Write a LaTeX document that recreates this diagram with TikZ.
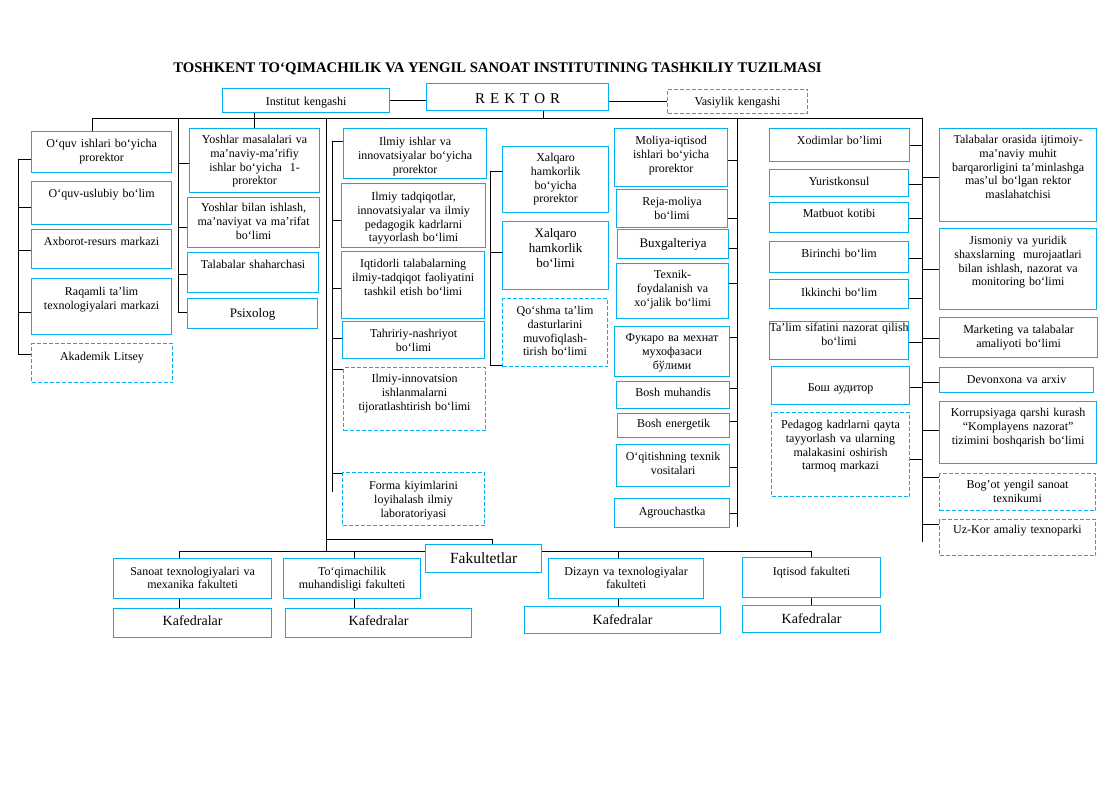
\documentclass[tikz,border=0pt]{standalone}
\usepackage{fontspec}
\setmainfont{Liberation Serif}
\usepackage{tikz}
\definecolor{boxblue}{RGB}{0,176,240}

\begin{document}
\begin{tikzpicture}[x=1pt,y=-1pt,line width=0.9pt,
  unit node/.style={draw=boxblue,line width=1.2pt,fill=white,inner sep=0pt,
    anchor=north west,align=center,font=\fontsize{12}{13.8}\selectfont},
  plan node/.style={unit node,line width=1pt,dash pattern=on 4pt off 2pt},
  fac node/.style={unit node,font=\fontsize{12}{12.5}\selectfont},
  dept node/.style={unit node,font=\fontsize{14}{16}\selectfont},
  wh/.style n args={3}{minimum width=#1pt,text width=#1pt,text height=#3pt,text depth={#2-#3}}]

  \fill[white] (0,0) rectangle (1118,786);

  \node[font=\fontsize{14.7}{16}\selectfont\bfseries,anchor=base] (title) at (497.5,73)
    {TOSHKENT TO‘QIMACHILIK VA YENGIL SANOAT INSTITUTINING TASHKILIY TUZILMASI};

  \node[unit node,wh={167}{24}{17}] (institut) at (222,88) {Institut kengashi};
  \node[unit node,wh={182}{27}{20},font=\fontsize{15}{17}\selectfont] (rektor) at (426,83) {R E K T O R};
  \node[plan node,wh={140}{24}{16}] (vasiy) at (667,89) {Vasiylik kengashi};

  \node[unit node,wh={140}{41}{16}] (oquvpr) at (31,131) {O‘quv ishlari bo‘yicha\\prorektor};
  \node[unit node,wh={140}{43}{16}] (oquvusl) at (31,181) {O‘quv-uslubiy bo‘lim};
  \node[unit node,wh={140}{39}{16}] (axborot) at (31,229) {Axborot-resurs markazi};
  \node[unit node,wh={140}{56}{17}] (raqamli) at (31,278) {Raqamli ta’lim\\texnologiyalari markazi};
  \node[plan node,wh={141}{39}{17}] (litsey) at (31,343) {Akademik Litsey};

  \node[unit node,wh={130}{64}{15}] (yoshpr) at (189,128) {Yoshlar masalalari va\\ma’naviy-ma’rifiy\\ishlar bo‘yicha~~1-\\prorektor};
  \node[unit node,wh={132}{50}{14}] (yoshbo) at (187,197) {Yoshlar bilan ishlash,\\ma’naviyat va ma’rifat\\bo‘limi};
  \node[unit node,wh={131}{40}{16}] (shahar) at (187,252) {Talabalar shaharchasi};
  \node[unit node,wh={130}{30}{19},font=\fontsize{13}{15}\selectfont] (psix) at (187,298) {Psixolog};

  \node[unit node,wh={143}{50}{17}] (ilmpr) at (343,128) {Ilmiy ishlar va\\innovatsiyalar bo‘yicha\\prorektor};
  \node[unit node,wh={144}{64}{17}] (ilmtad) at (341,183) {Ilmiy tadqiqotlar,\\innovatsiyalar va ilmiy\\pedagogik kadrlarni\\tayyorlash bo‘limi};
  \node[unit node,wh={143}{67}{16}] (iqtid) at (341,251) {Iqtidorli talabalarning\\ilmiy-tadqiqot faoliyatini\\tashkil etish bo‘limi};
  \node[unit node,wh={142}{37}{16}] (tahrir) at (342,321) {Tahririy-nashriyot\\bo‘limi};
  \node[plan node,wh={142}{63}{15}] (tijorat) at (343,367) {Ilmiy-innovatsion\\ishlanmalarni\\tijoratlashtirish bo‘limi};
  \node[plan node,wh={142}{53}{17}] (forma) at (342,472) {Forma kiyimlarini\\loyihalash ilmiy\\laboratoriyasi};

  \node[unit node,wh={106}{66}{15}] (xalpr) at (502,146) {Xalqaro\\hamkorlik\\bo‘yicha\\prorektor};
  \node[unit node,wh={106}{68}{16},font=\fontsize{13}{15}\selectfont] (xalbo) at (502,221) {Xalqaro\\hamkorlik\\bo‘limi};
  \node[plan node,wh={105}{68}{16}] (qoshma) at (502,298) {Qo‘shma ta’lim\\dasturlarini\\muvofiqlash-\\tirish bo‘limi};

  \node[unit node,wh={113}{58}{16}] (molpr) at (614,128) {Moliya-iqtisod\\ishlari bo‘yicha\\prorektor};
  \node[unit node,wh={111}{38}{16}] (reja) at (616,189) {Reja-moliya\\bo‘limi};
  \node[unit node,wh={111}{29}{18},font=\fontsize{13}{15}\selectfont] (buxg) at (617,229) {Buxgalteriya};
  \node[unit node,wh={112}{55}{15}] (texnik) at (616,263) {Texnik-\\foydalanish va\\xo‘jalik bo‘limi};
  \node[unit node,wh={115}{50}{15}] (fuqaro) at (614,326) {Фукаро ва мехнат\\мухофазаси\\бўлими};
  \node[unit node,wh={113}{27}{15}] (boshmuh) at (616,381) {Bosh muhandis};
  \node[unit node,wh={112}{24}{14}] (boshen) at (617,413) {Bosh energetik};
  \node[unit node,wh={113}{42}{16}] (oqit) at (616,444) {O‘qitishning texnik\\vositalari};
  \node[unit node,wh={115}{29}{17}] (agro) at (614,498) {Agrouchastka};

  \node[unit node,wh={140}{33}{16}] (xodim) at (769,128) {Xodimlar bo’limi};
  \node[unit node,wh={139}{27}{16}] (yurist) at (769,169) {Yuristkonsul};
  \node[unit node,wh={139}{30}{15}] (matbuot) at (769,202) {Matbuot kotibi};
  \node[unit node,wh={139}{31}{16}] (birinchi) at (769,241) {Birinchi bo‘lim};
  \node[unit node,wh={139}{29}{17}] (ikkinchi) at (769,279) {Ikkinchi bo‘lim};
  \node[unit node,wh={139}{38}{10},text width=153pt,inner xsep=-7pt] (talimsif) at (769,321) {Ta’lim sifatini nazorat qilish\\bo‘limi};
  \node[unit node,wh={138}{38}{25}] (auditor) at (771,366) {Бош аудитор};
  \node[plan node,wh={138}{84}{16}] (pedagog) at (771,412) {Pedagog kadrlarni qayta\\tayyorlash va ularning\\malakasini oshirish\\tarmoq markazi};

  \node[unit node,wh={157}{93}{15}] (maslahat) at (939,128) {Talabalar orasida ijtimoiy-\\ma’naviy muhit\\barqarorligini ta’minlashga\\mas’ul bo‘lgan rektor\\maslahatchisi};
  \node[unit node,wh={157}{81}{16}] (jismoniy) at (939,228) {Jismoniy va yuridik\\shaxslarning~~murojaatlari\\bilan ishlash, nazorat va\\monitoring bo‘limi};
  \node[unit node,wh={158}{40}{16}] (marketing) at (939,317) {Marketing va talabalar\\amaliyoti bo‘limi};
  \node[unit node,wh={154}{25}{16}] (devon) at (939,367) {Devonxona va arxiv};
  \node[unit node,wh={157}{62}{15}] (korrup) at (939,401) {Korrupsiyaga qarshi kurash\\“Komplayens nazorat”\\tizimini boshqarish bo‘limi};
  \node[plan node,wh={156}{37}{15}] (bogot) at (939,473) {Bog’ot yengil sanoat\\texnikumi};
  \node[plan node,wh={156}{36}{14}] (uzkor) at (939,519) {Uz-Kor amaliy texnoparki};

  \node[unit node,wh={116}{28}{19},font=\fontsize{15.5}{17}\selectfont] (fak) at (425,544) {Fakultetlar};
  \node[fac node,wh={158}{40}{17}] (sanoat) at (113,558) {Sanoat texnologiyalari va\\mexanika fakulteti};
  \node[fac node,wh={137}{40}{17}] (toqim) at (283,558) {To‘qimachilik\\muhandisligi fakulteti};
  \node[fac node,wh={155}{40}{17}] (dizayn) at (548,558) {Dizayn va texnologiyalar\\fakulteti};
  \node[fac node,wh={138}{40}{18}] (iqtisod) at (742,557) {Iqtisod fakulteti};
  \node[dept node,wh={158}{29}{17}] (kaf1) at (113,608) {Kafedralar};
  \node[dept node,wh={186}{29}{17}] (kaf2) at (285,608) {Kafedralar};
  \node[dept node,wh={196}{27}{18}] (kaf3) at (524,606) {Kafedralar};
  \node[dept node,wh={138}{27}{18}] (kaf4) at (742,605) {Kafedralar};

  % spines
  \coordinate (barL) at (92,118);
  \coordinate (barR) at (922,118);
  \coordinate (rk) at (543,118);
  \coordinate (sL) at (18,159);
  \coordinate (sY) at (178,118);
  \coordinate (tT) at (326,118);
  \coordinate (tB) at (326,551);
  \coordinate (sI) at (332,141);
  \coordinate (sIb) at (332,492);
  \coordinate (sX) at (490,171);
  \coordinate (sM) at (737,118);
  \coordinate (sMb) at (737,527);
  \coordinate (sRb) at (922,542);
  \coordinate (fk) at (492,539);
  \coordinate (f1) at (179,551);
  \coordinate (f2) at (354,551);
  \coordinate (f3) at (618,551);
  \coordinate (f4) at (811,551);

\draw (institut.east) -- (institut.east -| rektor.west);
\draw (rektor.east |- vasiy.west) -- (vasiy.west);
\draw (rk) -- (rk |- rektor.south);
\draw (barL) -- (barR);
\draw (barL) -- (barL |- oquvpr.north);
\draw (yoshpr.north |- institut.south) -- (yoshpr.north);

\draw (sL) |- ([yshift=-7.5]oquvpr.west);
\draw (sL) |- ([yshift=-4.5]oquvusl.west);
\draw (sL) |- ([yshift=-1.5]axborot.west);
\draw (sL) |- ([yshift=-6]raqamli.west);
\draw (sL) |- ([yshift=8.5]litsey.west);

\draw (sY) |- ([yshift=-3]yoshpr.west);
\draw (sY) |- ([yshift=-5]yoshbo.west);
\draw (sY) |- ([yshift=-2]shahar.west);
\draw (sY) |- ([yshift=1]psix.west);

\draw (tT) -- (tB);
\draw (sI) -- (sIb);
\draw (sI) |- ([yshift=12]ilmpr.west);
\draw (sI) |- ([yshift=-5]ilmtad.west);
\draw (sI) |- ([yshift=-3.5]iqtid.west);
\draw (sI) |- ([yshift=1.5]tahrir.west);
\draw (sI) |- ([yshift=29.5]tijorat.west);
\draw (sI) |- ([yshift=25.5]forma.west);

\draw (sX) |- ([yshift=8]xalpr.west);
\draw (sX) |- ([yshift=3]xalbo.west);
\draw (sX) |- ([yshift=-33]qoshma.west);

\draw (sM) -- (sMb);
\draw (sM) |- ([yshift=-3]molpr.east);
\draw (sM) |- ([yshift=-10]reja.east);
\draw (sM) |- ([yshift=-4.5]buxg.east);
\draw (sM) |- ([yshift=7.5]texnik.east);
\draw (sM) |- ([yshift=14]fuqaro.east);
\draw (sM) |- ([yshift=6.5]boshmuh.east);
\draw (sM) |- ([yshift=4]boshen.east);
\draw (sM) |- ([yshift=-2]oqit.east);
\draw (sM) |- (agro.east);

\draw (barR) -- (sRb);
\draw (barR) |- (xodim.east);
\draw (barR) |- ([yshift=-1.5]yurist.east);
\draw (barR) |- ([yshift=-1]matbuot.east);
\draw (barR) |- ([yshift=-1.5]birinchi.east);
\draw (barR) |- ([yshift=-4.5]ikkinchi.east);
\draw (barR) |- ([yshift=-2]talimsif.east);
\draw (barR) |- ([yshift=-2]auditor.east);
\draw (barR) |- ([yshift=-5]pedagog.east);
\draw (barR) |- ([yshift=-2.5]maslahat.west);
\draw (barR) |- (jismoniy.west);
\draw (barR) |- ([yshift=-1]marketing.west);
\draw (barR) |- ([yshift=-2.5]devon.west);
\draw (barR) |- ([yshift=2]korrup.west);
\draw (barR) |- ([yshift=14.5]bogot.west);
\draw (barR) |- ([yshift=13]uzkor.west);

\draw (tB |- fk) -- (fk) -- (fk |- fak.north);
\draw (f1) -- (f1 -| fak.west);
\draw (f4 -| fak.east) -- (f4);
\draw (f1) -- (f1 |- sanoat.north);
\draw (f2) -- (f2 |- toqim.north);
\draw (f3) -- (f3 |- dizayn.north);
\draw (f4) -- (f4 |- iqtisod.north);
\draw (f1 |- sanoat.south) -- (f1 |- kaf1.north);
\draw (f2 |- toqim.south) -- (f2 |- kaf2.north);
\draw (f3 |- dizayn.south) -- (f3 |- kaf3.north);
\draw (f4 |- iqtisod.south) -- (f4 |- kaf4.north);

\end{tikzpicture}
\end{document}
